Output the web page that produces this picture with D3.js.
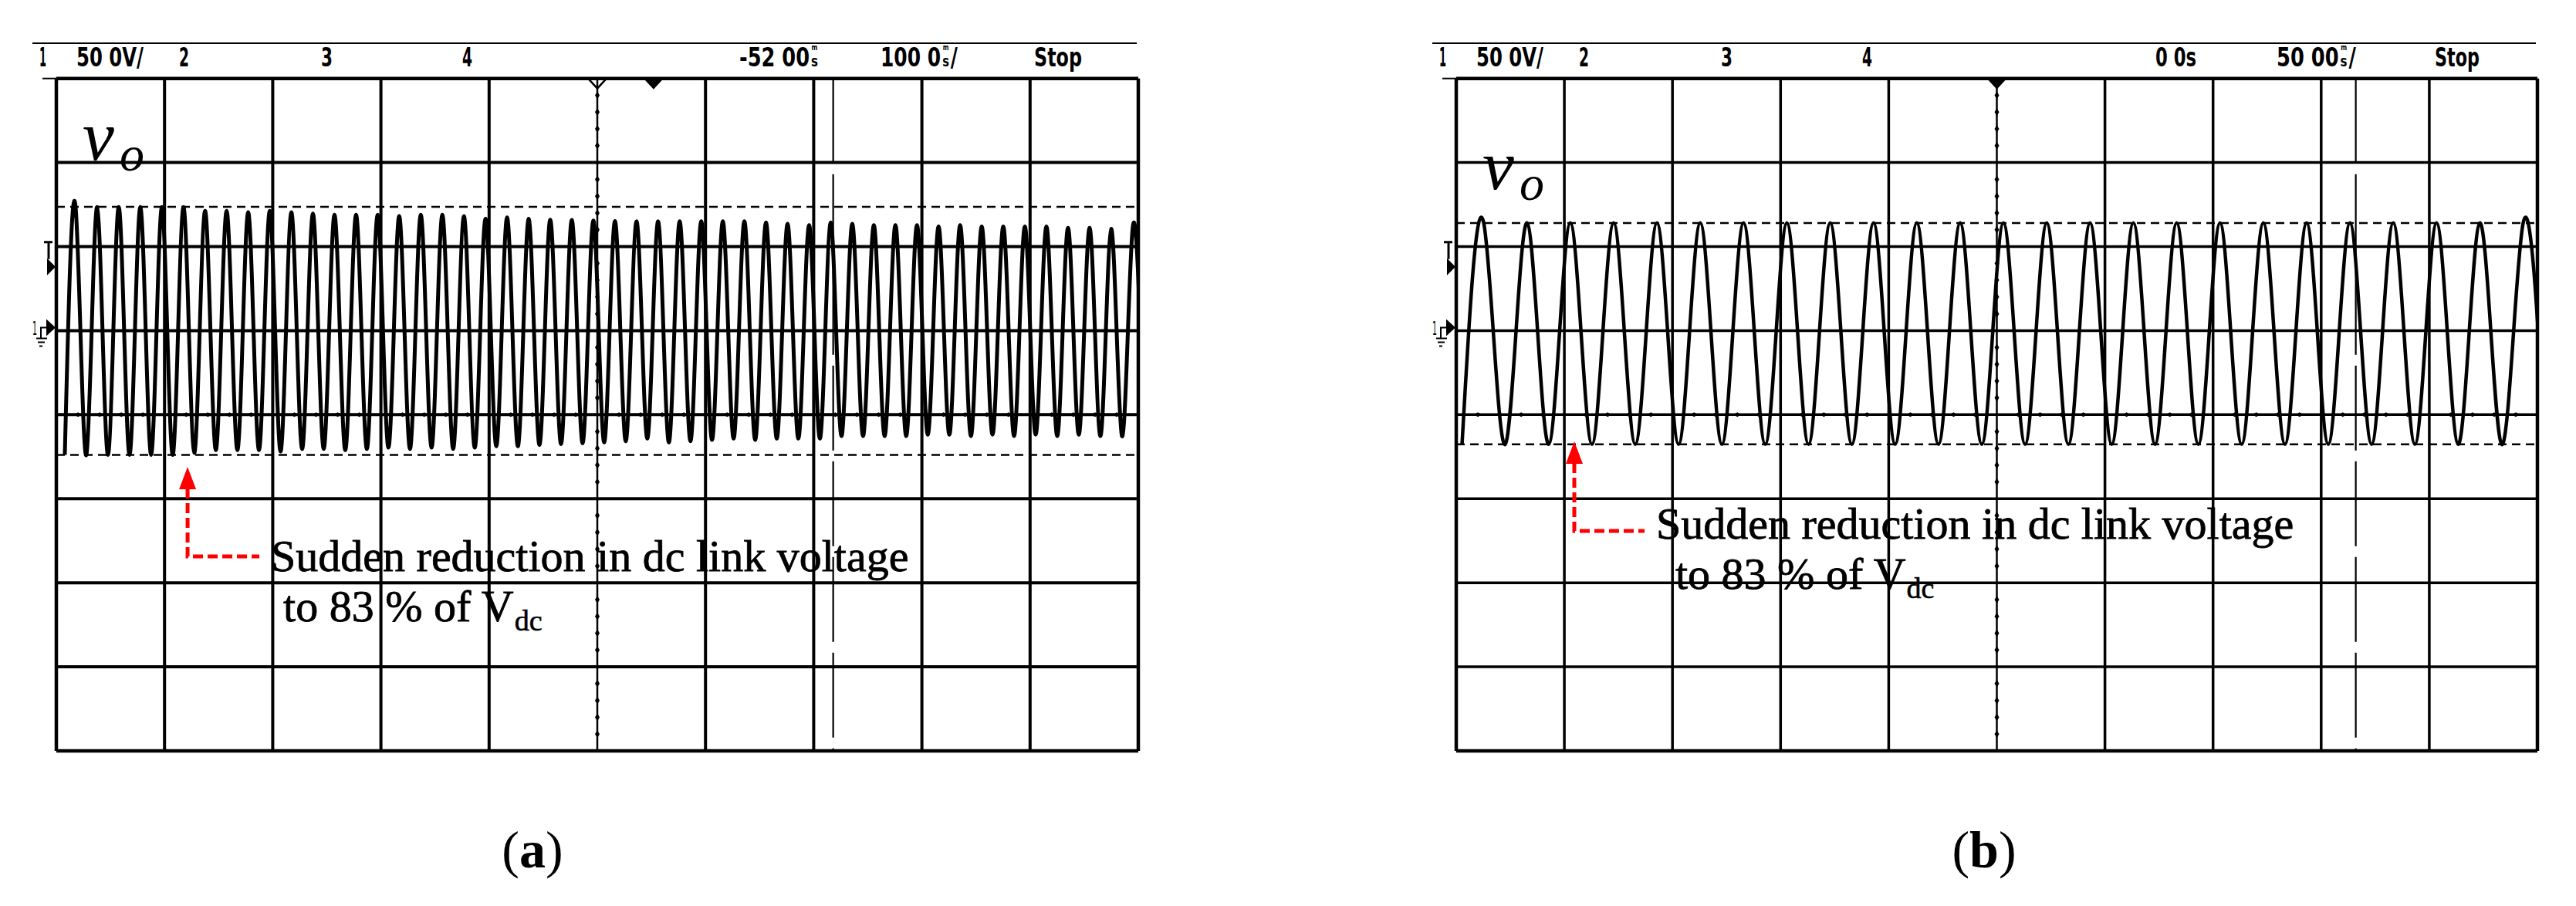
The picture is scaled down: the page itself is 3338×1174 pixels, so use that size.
<!DOCTYPE html>
<html>
<head>
<meta charset="utf-8">
<script src="https://cdnjs.cloudflare.com/ajax/libs/d3/7.8.5/d3.min.js"></script>
<style>
  html, body { margin: 0; padding: 0; background: #fff; }
  svg { display: block; }
</style>
</head>
<body>
<svg id="chart"></svg>
<script>
// v_o peak / trough per cycle (V)
const peaksA = [73.5, 73.5, 73.5, 73.5, 73.5, 73.5,
  71.2, 71.2, 70.4, 71.2, 70.4, 69.6, 68.9, 68.9, 68.9, 68.1, 68.9, 68.9, 68.1, 66.6, 67.3,
  66.5, 66.0, 65.8, 65.5, 65.2,
  65.0, 65.0, 65.0, 65.0, 65.0, 65.0, 64.3, 63.5, 62.8, 64.3, 63.5, 62.8, 62.8, 62.8,
  62.0, 62.8, 62.0, 62.0, 62.0, 62.0, 61.2, 61.2, 60.5, 61.2];
const troughsA = [-73.9,
  -73.9, -73.9, -73.9, -73.9, -73.9, -72.7, -71.1, -71.1, -71.1,
  -71.9, -70.4, -70.4, -71.1, -70.4, -69.6, -70.4, -69.6, -70.4, -69.6, -68.8,
  -68.8, -68.0, -67.5, -67.0, -66.5,
  -65.8, -64.2, -66.5, -65.8, -65.0, -64.2, -65.0, -64.2, -64.2, -64.2,
  -62.7, -62.7, -62.7, -62.7, -61.9, -61.9, -62.7, -61.9, -62.7, -61.9, -62.7, -61.9, -62.7, -62.7, -62.7];
const peaksB = [64.1, 64.1, 64.1, 64.1, 64.1, 64.1, 64.1, 64.1, 64.1, 64.1, 64.1, 64.1, 64.1,
  64.1, 64.1, 64.1, 64.1, 64.1, 64.1, 64.1, 64.1, 64.1, 64.1, 64.1, 64.1];
const troughsB = [-67.6, -67.6, -67.6, -67.6, -67.6, -67.6, -67.6, -67.6, -67.6, -67.6, -67.6, -67.6, -67.6,
  -67.6, -67.6, -67.6, -67.6, -67.6, -67.6, -67.6, -67.6, -67.6, -67.6, -67.6, -67.6, -67.6];

// horizontal cursor levels (V)
const cursorsA = [73.6, -73.9];
const cursorsB = [64.0, -67.6];

// scope header texts
const headerLeft = ['1', '50 0V/', '2', '3', '4'];
const headerRightA = ['-52 00ms', '100 0ms/', 'Stop'];
const headerRightB = ['0 0s', '50 00ms/', 'Stop'];

const noteLine1 = 'Sudden reduction in dc link voltage';
const noteLine2 = 'to 83 % of V';
const noteSub = 'dc';

const W = 3338, H = 1174;
const TOP = 101.7, BOTTOM = 973;
const mono = "'Liberation Sans Narrow', 'DejaVu Sans Condensed', 'DejaVu Sans', sans-serif";
const serif = "'Liberation Serif', 'DejaVu Serif', serif";
const red = '#ff0000';

const svg = d3.select('#chart').attr('width', W).attr('height', H);
svg.append('rect').attr('width', W).attr('height', H).attr('fill', '#fff');

const panels = [
  {
    id: 'a', left: 73, right: 1475, msDiv: 100, delay: -52,
    firstPeak: -534.2, period: 19.94, peaks: peaksA, troughs: troughsA,
    cursors: cursorsA, cursorT: 166, header: headerRightA,
    rightX: [-517, -334, -135], rightW: [102, 100, 62],
    vBase: 207, gridW: 4, traceW: 5,
    eventT: -430.7, eventV: -81,
    elbow: 116, armX: 93, l1: [108, 135], l2: [124, 200],
    label: 'a', labelX: 690
  },
  {
    id: 'b', left: 1887, right: 3288, msDiv: 50, delay: 0,
    firstPeak: -237.3, period: 20.03, peaks: peaksB, troughs: troughsB,
    cursors: cursorsB, cursorT: 166, header: headerRightB,
    rightX: [-495, -338, -133], rightW: [53, 103, 58],
    vBase: 245, gridW: 3.5, traceW: 4.5,
    eventT: -195.4, eventV: -65.9,
    elbow: 116, armX: 91, l1: [106, 126], l2: [131, 191],
    label: 'b', labelX: 2571
  }
];

const leftX = [-22, 26, 159, 343, 526];
const leftW = [9, 87, 13, 15, 13];

// condensed scope lettering, squeezed to the read width;
// "ms" is drawn the scope way: a small s with a tiny m above it
function headerText(g, str, x0, w) {
  const k = str.indexOf('ms');
  const parts = (k < 0
    ? [{ s: str, fs: 34 }]
    : [{ s: str.slice(0, k), fs: 34 }, { s: 's', fs: 20, unit: true }, { s: str.slice(k + 2), fs: 34 }]
  ).filter((d) => d.s);
  const gap = k < 0 ? 0 : 2;
  const nodes = parts.map((d) => g.append('text')
    .attr('x', 0).attr('y', 86)
    .attr('font-family', mono).attr('font-size', d.fs).attr('font-weight', 'bold')
    .text(d.s));
  const widths = nodes.map((n) => n.node().getComputedTextLength());
  const sx = (w - gap * (parts.length - 1)) / d3.sum(widths);
  let cx = x0;
  nodes.forEach((n, i) => {
    n.attr('transform', `translate(${cx},0) scale(${sx},1)`);
    if (parts[i].unit) {
      g.append('text')
        .attr('x', 0).attr('y', 0)
        .attr('transform', `translate(${cx + widths[i] * sx / 2},65) scale(${sx},1)`)
        .attr('text-anchor', 'middle')
        .attr('font-family', mono).attr('font-size', 10).attr('font-weight', 'bold')
        .text('m');
    }
    cx += widths[i] * sx + gap;
  });
}

function drawPanel(p) {
  const g = svg.append('g').attr('class', 'panel-' + p.id);

  const x = d3.scaleLinear()
    .domain([p.delay - 5 * p.msDiv, p.delay + 5 * p.msDiv])
    .range([p.left, p.right]);
  const y = d3.scaleLinear().domain([150, -250]).range([TOP, BOTTOM]);

  const xTicks = d3.range(11).map((k) => p.delay - 5 * p.msDiv + k * p.msDiv);
  const yTicks = d3.range(9).map((k) => 150 - 50 * k);

  // header rule + labels
  g.append('line')
    .attr('x1', p.left - 31).attr('x2', p.right - 2)
    .attr('y1', 56).attr('y2', 56)
    .attr('stroke', '#000').attr('stroke-width', 2);
  headerLeft.forEach((s, i) => headerText(g, s, p.left + leftX[i], leftW[i]));
  p.header.forEach((s, i) => headerText(g, s, p.right + p.rightX[i], p.rightW[i]));

  // graticule
  g.append('line')
    .attr('x1', p.left - 18).attr('x2', p.left)
    .attr('y1', TOP).attr('y2', TOP)
    .attr('stroke', '#000').attr('stroke-width', 2);

  g.selectAll('.vgrid')
    .data(xTicks)
    .enter()
    .append('line')
    .attr('class', 'vgrid')
    .attr('x1', (d) => x(d)).attr('x2', (d) => x(d))
    .attr('y1', TOP).attr('y2', BOTTOM)
    .attr('stroke', '#000')
    .attr('stroke-width', (d, i) => (i === 0 || i === 10 ? 4.5 : i === 5 ? 2.5 : p.gridW));

  g.selectAll('.hgrid')
    .data(yTicks)
    .enter()
    .append('line')
    .attr('class', 'hgrid')
    .attr('x1', p.left).attr('x2', p.right)
    .attr('y1', (d) => y(d)).attr('y2', (d) => y(d))
    .attr('stroke', '#000')
    .attr('stroke-width', (d, i) => (i === 0 || i === 8 ? 4.5 : p.gridW));

  // minor ticks on the centre axes
  const diamond = 'M0,-5L3,0L0,5L-3,0Z';
  const vMinor = d3.range(1, 40).filter((j) => j % 5 !== 0).map((j) => 150 - j * 10);
  g.selectAll('.vtick')
    .data(vMinor)
    .enter()
    .append('path')
    .attr('d', diamond)
    .attr('transform', (d) => `translate(${x(p.delay)},${y(d)})`)
    .attr('fill', '#000');
  const hMinor = d3.range(1, 50).filter((j) => j % 5 !== 0)
    .map((j) => p.delay - 5 * p.msDiv + j * p.msDiv / 5);
  g.selectAll('.htick')
    .data(hMinor)
    .enter()
    .append('path')
    .attr('d', 'M-5,0L0,-3L5,0L0,3Z')
    .attr('transform', (d) => `translate(${x(d)},${y(-50)})`)
    .attr('fill', '#000');

  // trigger markers on top edge
  const tx = x(0);
  g.append('path')
    .attr('d', `M${tx - 13},${TOP}L${tx + 13},${TOP}L${tx},${TOP + 14}Z`)
    .attr('fill', '#000');
  if (p.delay !== 0) {
    const cx = x(p.delay);
    g.append('path')
      .attr('d', `M${cx - 11},${TOP + 1}L${cx + 11},${TOP + 1}L${cx},${TOP + 13}Z`)
      .attr('fill', 'none').attr('stroke', '#000').attr('stroke-width', 2.5);
  }

  // left side markers: trigger level and channel 1 ground
  const ty = y(38);
  g.append('path')
    .attr('d', `M${p.left - 16},${ty - 32}L${p.left - 5},${ty - 32}M${p.left - 10},${ty - 32}L${p.left - 10},${ty - 10}`)
    .attr('stroke', '#000').attr('stroke-width', 3).attr('fill', 'none');
  g.append('path')
    .attr('d', `M${p.left - 12},${ty - 11}L${p.left - 1},${ty}L${p.left - 12},${ty + 11}Z`)
    .attr('fill', '#000');
  const gy = y(0) - 4;
  g.append('path')
    .attr('d', `M${p.left - 13},${gy - 11}L${p.left - 1},${gy}L${p.left - 13},${gy + 11}Z`)
    .attr('fill', '#000');
  g.append('text')
    .attr('x', p.left - 31).attr('y', gy + 10)
    .attr('font-family', mono).attr('font-size', 24)
    .attr('textLength', 6).attr('lengthAdjust', 'spacingAndGlyphs')
    .text('1');
  g.append('path')
    .attr('d', `M${p.left - 13},${gy}L${p.left - 20},${gy}L${p.left - 20},${gy + 14}` +
      `M${p.left - 26},${gy + 14}L${p.left - 12},${gy + 14}` +
      `M${p.left - 24},${gy + 19}L${p.left - 15},${gy + 19}` +
      `M${p.left - 22},${gy + 24}L${p.left - 18},${gy + 24}`)
    .attr('stroke', '#000').attr('stroke-width', 2).attr('fill', 'none');

  // cursors
  g.selectAll('.hcur')
    .data(p.cursors)
    .enter()
    .append('line')
    .attr('x1', p.left).attr('x2', p.right)
    .attr('y1', (d) => y(d)).attr('y2', (d) => y(d))
    .attr('stroke', '#000').attr('stroke-width', 2.5)
    .attr('stroke-dasharray', '11,7');
  g.append('line')
    .attr('x1', x(p.cursorT)).attr('x2', x(p.cursorT))
    .attr('y1', TOP).attr('y2', BOTTOM)
    .attr('stroke', '#000').attr('stroke-width', 2.2)
    .attr('stroke-dasharray', '110,14');

  // trace
  const pts = [];
  p.troughs.forEach((v, i) => {
    pts.push({ t: p.firstPeak + (i - 0.5) * p.period, v });
    if (i < p.peaks.length) pts.push({ t: p.firstPeak + i * p.period, v: p.peaks[i] });
  });

  g.append('clipPath').attr('id', 'clip-' + p.id)
    .append('rect')
    .attr('x', p.left).attr('y', TOP)
    .attr('width', p.right - p.left).attr('height', BOTTOM - TOP);

  const line = d3.line()
    .x((d) => x(d.t))
    .y((d) => y(d.v))
    .curve(d3.curveNatural);

  g.append('path')
    .datum(pts)
    .attr('clip-path', `url(#clip-${p.id})`)
    .attr('d', line)
    .attr('fill', 'none')
    .attr('stroke', '#000')
    .attr('stroke-width', p.traceW)
    .attr('stroke-linejoin', 'round');

  // v_o label
  g.append('text')
    .attr('x', p.left + 34).attr('y', p.vBase)
    .attr('font-family', serif).attr('font-style', 'italic').attr('font-size', 92)
    .text('v');
  g.append('text')
    .attr('x', p.left + 82).attr('y', p.vBase + 14)
    .attr('font-family', serif).attr('font-style', 'italic').attr('font-size', 64)
    .text('o');

  // annotation arrow
  const ax = x(p.eventT), ay = y(p.eventV);
  g.append('path')
    .attr('d', `M${ax},${ay + 28}L${ax},${ay + p.elbow}L${ax + p.armX},${ay + p.elbow}`)
    .attr('fill', 'none').attr('stroke', red).attr('stroke-width', 5)
    .attr('stroke-dasharray', '13,6');
  g.append('path')
    .attr('d', `M${ax},${ay}L${ax + 11},${ay + 29}L${ax - 11},${ay + 29}Z`)
    .attr('fill', red);

  g.append('text')
    .attr('x', ax + p.l1[0]).attr('y', ay + p.l1[1])
    .attr('font-family', serif).attr('font-size', 58)
    .attr('stroke', '#000').attr('stroke-width', 0.8)
    .text(noteLine1);
  const t2 = g.append('text')
    .attr('x', ax + p.l2[0]).attr('y', ay + p.l2[1])
    .attr('font-family', serif).attr('font-size', 58)
    .attr('stroke', '#000').attr('stroke-width', 0.8)
    .text(noteLine2);
  g.append('text')
    .attr('x', ax + p.l2[0] + t2.node().getComputedTextLength() + 1)
    .attr('y', ay + p.l2[1] + 12)
    .attr('font-family', serif).attr('font-size', 38)
    .attr('stroke', '#000').attr('stroke-width', 0.6)
    .text(noteSub);

  // panel caption
  const cap = svg.append('text')
    .attr('x', p.labelX).attr('y', 1124)
    .attr('text-anchor', 'middle')
    .attr('font-family', serif).attr('font-size', 68);
  cap.append('tspan').text('(');
  cap.append('tspan').attr('font-weight', 'bold').text(p.label);
  cap.append('tspan').text(')');
}

panels.forEach(drawPanel);
</script>
</body>
</html>
